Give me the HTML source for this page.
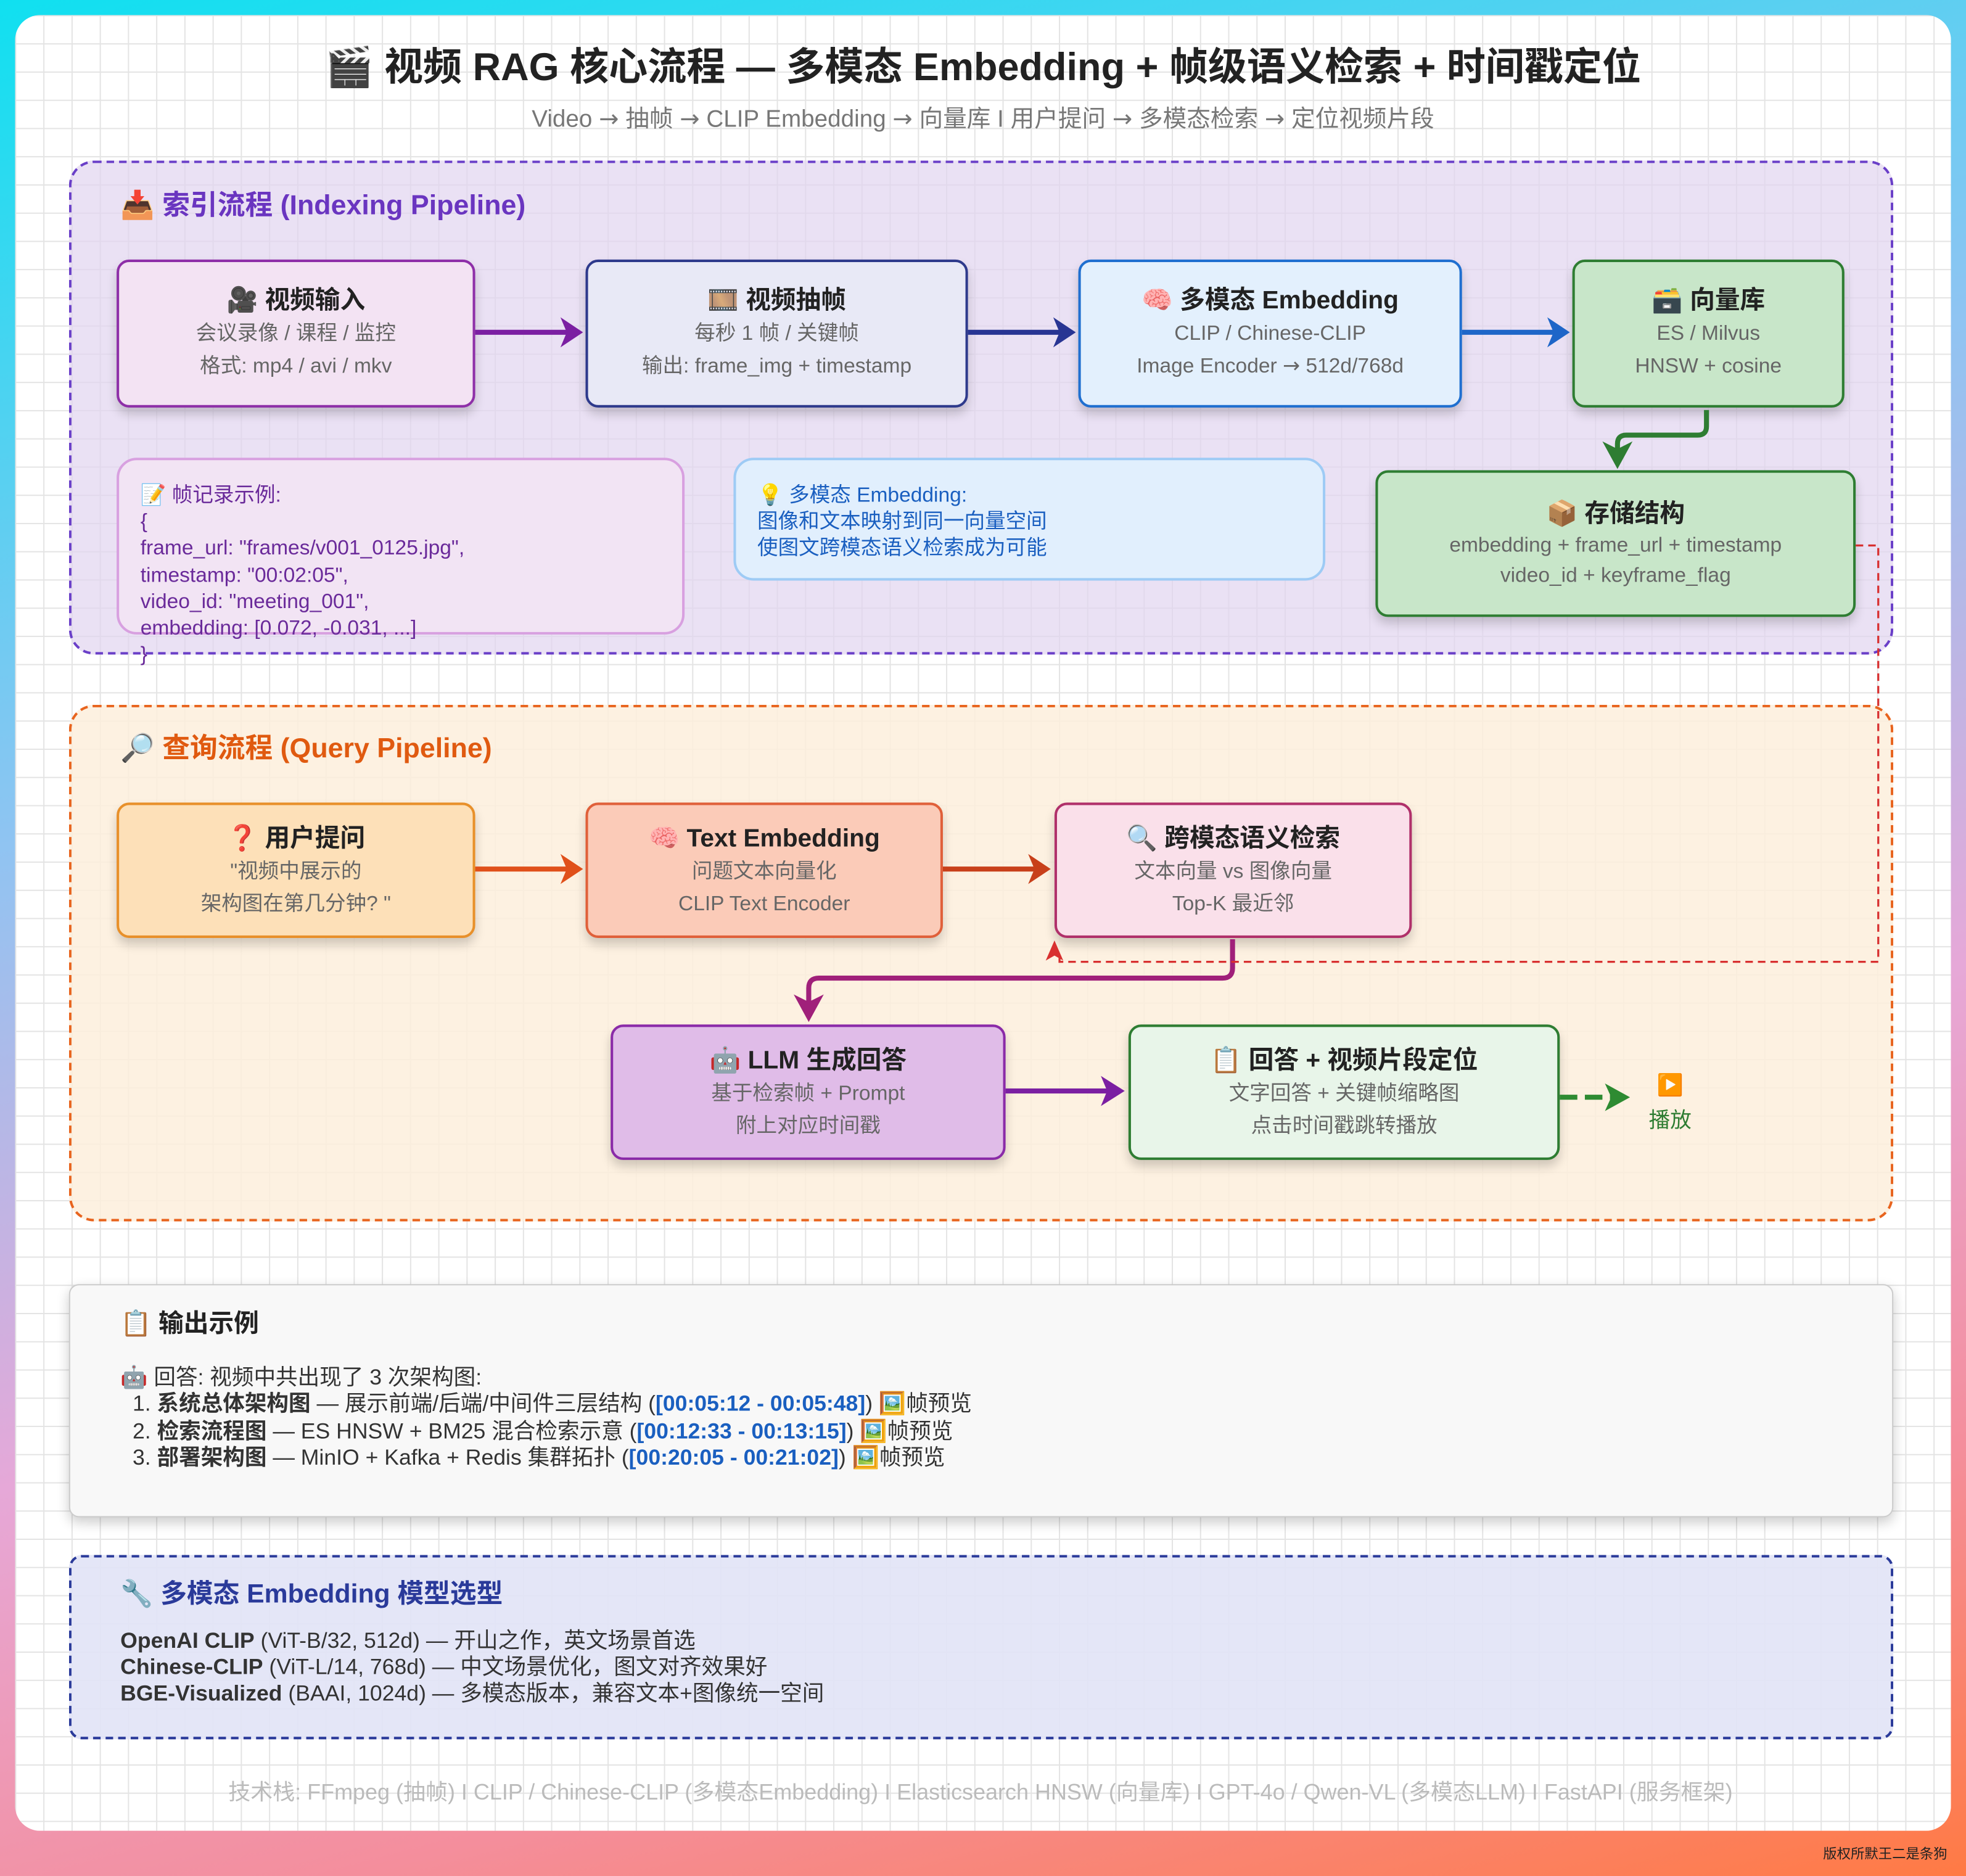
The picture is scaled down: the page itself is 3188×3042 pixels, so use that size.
<!DOCTYPE html>
<html><head><meta charset="utf-8"><style>
html,body{margin:0;padding:0;width:3188px;height:3042px;overflow:hidden}
body{background:linear-gradient(165deg,#10e0f0 0%,#8fc4f2 35%,#e6a8d8 62%,#f48e9c 82%,#ff7a44 100%)}
#w{position:absolute;left:0;top:0;width:1568px;height:1496px;transform:scale(2.0332,2.0334);transform-origin:0 0;font-family:"Liberation Sans","Noto Sans CJK SC",sans-serif;color:#333}
.card{position:absolute;left:12px;top:12px;width:1544px;height:1448px;border-radius:20px;background-color:#fff;
background-image:linear-gradient(#e4e4e4 1px,transparent 1px),linear-gradient(90deg,#e4e4e4 1px,transparent 1px);background-size:22.5px 22.5px;background-position:0 0}
.a{position:absolute}
.c{text-align:center}
.ar{font-family:"DejaVu Sans",sans-serif}
.box{position:absolute;border:2px solid;border-radius:10px;box-shadow:0 5px 8px rgba(0,0,0,.18);text-align:center;box-sizing:border-box}
.box b{display:block;font-size:20px;color:#222;margin-top:18px;line-height:26px}
.box span{display:block;font-size:16.5px;color:#666;line-height:26px}
.grp{position:absolute;border-radius:20px;border:2px dashed;box-sizing:border-box}
.gt{position:absolute;font-size:22px;font-weight:bold}
</style></head><body>
<div id="w">
<div class="card"></div>
<div class="a c" style="left:0;width:1568px;top:28px;font-size:31px;font-weight:bold;color:#222">🎬 视频 RAG 核心流程 — 多模态 Embedding + 帧级语义检索 + 时间戳定位</div>
<div class="a c" style="left:0;width:1568px;top:80px;font-size:19px;color:#777">Video <span class="ar">→</span> 抽帧 <span class="ar">→</span> CLIP Embedding <span class="ar">→</span> 向量库 I 用户提问 <span class="ar">→</span> 多模态检索 <span class="ar">→</span> 定位视频片段</div>

<div class="grp" style="left:55px;top:128px;width:1455px;height:394px;border-color:#6a3fc8;background:rgba(225,212,240,.7)"></div>
<div class="gt" style="left:96px;top:146px;color:#6a35c0">📥 索引流程 (Indexing Pipeline)</div>

<div class="box" style="left:93px;top:207px;width:286px;height:118px;border-color:#8e2fa8;background:#f3e3f3"><b>🎥 视频输入</b><span>会议录像 / 课程 / 监控</span><span>格式: mp4 / avi / mkv</span></div>
<div class="box" style="left:467px;top:207px;width:305px;height:118px;border-color:#2e3a8c;background:#e8e9f6"><b>🎞️ 视频抽帧</b><span>每秒 1 帧 / 关键帧</span><span>输出: frame_img + timestamp</span></div>
<div class="box" style="left:860px;top:207px;width:306px;height:118px;border-color:#1f6fd0;background:#e3f0fd"><b>🧠 多模态 Embedding</b><span>CLIP / Chinese-CLIP</span><span>Image Encoder <span class="ar" style="display:inline">→</span> 512d/768d</span></div>
<div class="box" style="left:1254px;top:207px;width:217px;height:118px;border-color:#2e7d32;background:#c8e6c9"><b>🗃️ 向量库</b><span>ES / Milvus</span><span>HNSW + cosine</span></div>

<div class="a" style="left:93px;top:365px;width:453px;height:141px;border:2px solid #d8a0e0;border-radius:16px;background:#f2e4f4;box-sizing:border-box"></div>
<div class="a" style="left:112px;top:385px;font-size:16.5px;line-height:21.2px;color:#6a2a9a;white-space:pre">📝 帧记录示例:
{
frame_url: "frames/v001_0125.jpg",
timestamp: "00:02:05",
video_id: "meeting_001",
embedding: [0.072, -0.031, ...]
}</div>
<div class="a" style="left:585px;top:365px;width:472px;height:98px;border:2px solid #9ecbf5;border-radius:16px;background:#e1effd;box-sizing:border-box"></div>
<div class="a" style="left:604px;top:385px;font-size:16.5px;line-height:21px;color:#1a5fc0">💡 多模态 Embedding:<br>图像和文本映射到同一向量空间<br>使图文跨模态语义检索成为可能</div>
<div class="box" style="left:1097px;top:375px;width:383px;height:117px;border-color:#2e7d32;background:#c8e6c9"><b style="margin-top:20px">📦 存储结构</b><span style="line-height:24px">embedding + frame_url + timestamp</span><span style="line-height:24px">video_id + keyframe_flag</span></div>

<div class="grp" style="left:55px;top:562px;width:1455px;height:412px;border-color:#e8641e;background:rgba(253,238,220,.85)"></div>
<div class="gt" style="left:96px;top:579px;color:#e05a10">🔎 查询流程 (Query Pipeline)</div>

<div class="box" style="left:93px;top:640px;width:286px;height:108px;border-color:#e8902a;background:#fde0b8"><b style="margin-top:14px">❓ 用户提问</b><span>"视频中展示的</span><span>架构图在第几分钟? "</span></div>
<div class="box" style="left:467px;top:640px;width:285px;height:108px;border-color:#e0603a;background:#fbcbb8"><b style="margin-top:14px">🧠 Text Embedding</b><span>问题文本向量化</span><span>CLIP Text Encoder</span></div>
<div class="box" style="left:841px;top:640px;width:285px;height:108px;border-color:#b0306a;background:#fae0ea"><b style="margin-top:14px">🔍 跨模态语义检索</b><span>文本向量 vs 图像向量</span><span>Top-K 最近邻</span></div>
<div class="box" style="left:487px;top:817px;width:315px;height:108px;border-color:#8a2aa8;background:#e0bce8"><b style="margin-top:14px">🤖 LLM 生成回答</b><span>基于检索帧 + Prompt</span><span>附上对应时间戳</span></div>
<div class="box" style="left:900px;top:817px;width:344px;height:108px;border-color:#2e7d32;background:#e8f5e9"><b style="margin-top:14px">📋 回答 + 视频片段定位</b><span>文字回答 + 关键帧缩略图</span><span>点击时间戳跳转播放</span></div>
<div class="a c" style="left:1300px;top:852px;width:64px;font-size:17px;line-height:28px;color:#2e7d32">▶️<br>播放</div>

<svg class="a" style="left:0;top:0" width="1568" height="1496">
<g fill="none" stroke-width="4">
<path d="M379,265H462" stroke="#7b1fa2"/><path d="M447,253L465,265L447,277L452,265z" fill="#7b1fa2" stroke="none"/>
<path d="M772,265H855" stroke="#283593"/><path d="M840,253L858,265L840,277L845,265z" fill="#283593" stroke="none"/>
<path d="M1166,265H1249" stroke="#1e66c8"/><path d="M1234,253L1252,265L1234,277L1239,265z" fill="#1e66c8" stroke="none"/>
<path d="M1361,327V340Q1361,347 1354,347H1297Q1290,347 1290,354V360" stroke="#2e7d32"/><path d="M1278,352L1290,374L1302,352L1290,358z" fill="#2e7d32" stroke="none"/>
<path d="M379,693H462" stroke="#e0501a"/><path d="M447,681L465,693L447,705L452,693z" fill="#e0501a" stroke="none"/>
<path d="M752,693H835" stroke="#c8401a"/><path d="M820,681L838,693L820,705L825,693z" fill="#c8401a" stroke="none"/>
<path d="M983,749V772Q983,780 975,780H653Q645,780 645,788V800" stroke="#a0207a"/><path d="M633,793L645,815L657,793L645,799z" fill="#a0207a" stroke="none"/>
<path d="M802,870H893" stroke="#7b1fa2"/><path d="M878,858L897,870L878,882L883,870z" fill="#7b1fa2" stroke="none"/>
<path d="M1244,875H1290" stroke="#2e8b32" stroke-dasharray="14 6"/><path d="M1280,864L1300,875L1280,886L1285,875z" fill="#2e8b32" stroke="none"/>
</g>
<path d="M1480,435H1498V767H845V760" fill="none" stroke="#d83030" stroke-width="1.6" stroke-dasharray="6 4"/>
<path d="M834,766L841,750L848,766L841,762z" fill="#d83030"/>
</svg>

<div class="a" style="left:55px;top:1024px;width:1455px;height:186px;background:#f8f8f8;border:1.5px solid #ccc;border-radius:8px;box-shadow:0 4px 10px rgba(0,0,0,.2);box-sizing:border-box"></div>
<div class="a" style="left:96px;top:1039px;font-size:20px;font-weight:bold;color:#222">📋 输出示例</div>
<div class="a" style="left:96px;top:1088px;font-size:17.5px;line-height:21.3px;color:#333;white-space:nowrap">🤖 回答: 视频中共出现了 3 次架构图:<br>
&nbsp;&nbsp;1. <b>系统总体架构图</b> — 展示前端/后端/中间件三层结构 (<b style="color:#1a5fc0">[00:05:12 - 00:05:48]</b>) 🖼️帧预览<br>
&nbsp;&nbsp;2. <b>检索流程图</b> — ES HNSW + BM25 混合检索示意 (<b style="color:#1a5fc0">[00:12:33 - 00:13:15]</b>) 🖼️帧预览<br>
&nbsp;&nbsp;3. <b>部署架构图</b> — MinIO + Kafka + Redis 集群拓扑 (<b style="color:#1a5fc0">[00:20:05 - 00:21:02]</b>) 🖼️帧预览</div>

<div class="grp" style="left:55px;top:1240px;width:1455px;height:147px;border-color:#2a3a9a;border-radius:10px;background:rgba(226,228,246,.92)"></div>
<div class="a" style="left:96px;top:1255px;font-size:21px;font-weight:bold;color:#2a3a9a">🔧 多模态 Embedding 模型选型</div>
<div class="a" style="left:96px;top:1298px;font-size:17.5px;line-height:21.2px;color:#333;white-space:nowrap"><b>OpenAI CLIP</b> (ViT-B/32, 512d) — 开山之作，英文场景首选<br><b>Chinese-CLIP</b> (ViT-L/14, 768d) — 中文场景优化，图文对齐效果好<br><b>BGE-Visualized</b> (BAAI, 1024d) — 多模态版本，兼容文本+图像统一空间</div>

<div class="a c" style="left:0;width:1564px;top:1415px;font-size:17.7px;color:#bbb">技术栈: FFmpeg (抽帧) I CLIP / Chinese-CLIP (多模态Embedding) I Elasticsearch HNSW (向量库) I GPT-4o / Qwen-VL (多模态LLM) I FastAPI (服务框架)</div>
<div class="a" style="left:1454px;top:1470px;font-size:11px;color:#222">版权所默王二是条狗</div>
</div>
</body></html>
